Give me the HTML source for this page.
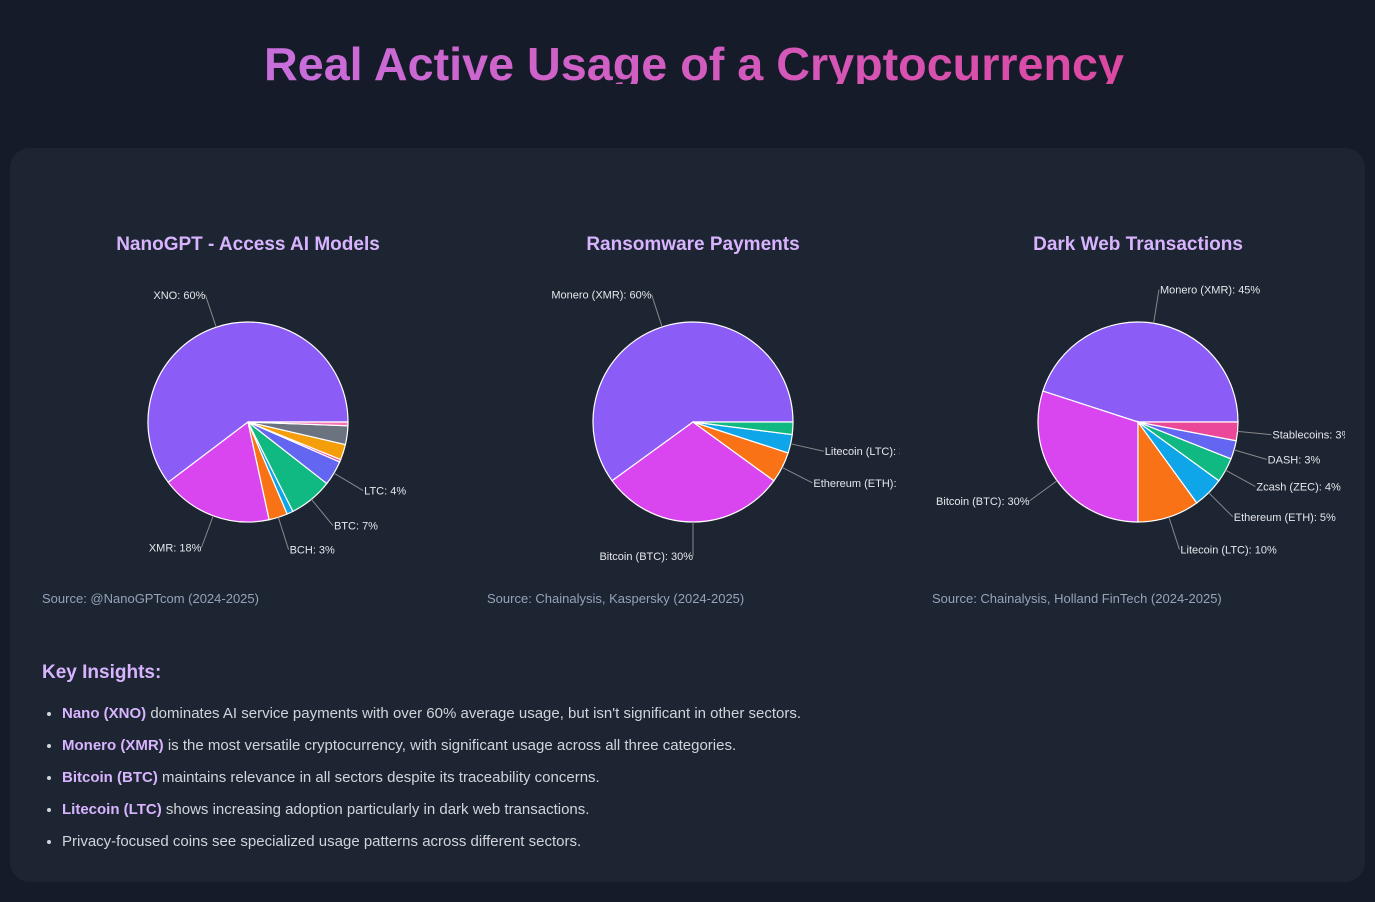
<!DOCTYPE html>
<html><head><meta charset="utf-8">
<style>
body{margin:0;width:1375px;height:902px;background:#151b29;font-family:"Liberation Sans",sans-serif;overflow:hidden;position:relative}
.card{position:absolute;left:10px;top:148px;width:1355px;height:734px;background:#1d2533;border-radius:20px}
.ctitle{position:absolute;top:234px;font-weight:bold;font-size:19px;color:#d8b4fe;text-align:center;width:414px}
.src{position:absolute;top:591px;font-size:13px;color:#94a3b8}
svg.pie{position:absolute;top:260px}
.ins{position:absolute;left:42px;top:662px;font-weight:bold;font-size:19px;color:#d8b4fe}
ul{position:absolute;left:42px;top:702px;margin:0;padding:0 0 0 20px;font-size:15px;color:#d1d5db}
li{height:32px;line-height:24px}
li b{color:#d8b4fe}
</style></head><body>
<svg width="1375" height="84" style="position:absolute;left:0;top:0">
<defs><linearGradient id="tg" x1="0" x2="1"><stop offset="0" stop-color="#c86fdc"/><stop offset="1" stop-color="#dc48a2"/></linearGradient></defs>
<text x="264" y="80" font-size="46" font-weight="bold" fill="url(#tg)" textLength="860" lengthAdjust="spacingAndGlyphs" font-family="Liberation Sans, sans-serif">Real Active Usage of a Cryptocurrency</text>
</svg>
<div class="card"></div>
<div class="ctitle" style="left:41px">NanoGPT - Access AI Models</div>
<div class="ctitle" style="left:486px">Ransomware Payments</div>
<div class="ctitle" style="left:931px">Dark Web Transactions</div>
<svg class="pie" id="p1" width="414" height="320" style="left:41px"></svg>
<svg class="pie" id="p2" width="414" height="320" style="left:486px"></svg>
<svg class="pie" id="p3" width="414" height="320" style="left:931px"></svg>
<div class="src" style="left:42px">Source: @NanoGPTcom (2024-2025)</div>
<div class="src" style="left:487px">Source: Chainalysis, Kaspersky (2024-2025)</div>
<div class="src" style="left:932px">Source: Chainalysis, Holland FinTech (2024-2025)</div>
<div class="ins">Key Insights:</div>
<ul>
<li><b>Nano (XNO)</b> dominates AI service payments with over 60% average usage, but isn't significant in other sectors.</li>
<li><b>Monero (XMR)</b> is the most versatile cryptocurrency, with significant usage across all three categories.</li>
<li><b>Bitcoin (BTC)</b> maintains relevance in all sectors despite its traceability concerns.</li>
<li><b>Litecoin (LTC)</b> shows increasing adoption particularly in dark web transactions.</li>
<li>Privacy-focused coins see specialized usage patterns across different sectors.</li>
</ul>
<script>
const labels1=["XNO","XMR","BCH","ETH","BTC","LTC","DOGE","SOL","Other","USDT"];
const values1=[60,18,3,1,7,4,0.4,2.5,3,0.6];
const shown1=[true,true,true,false,true,true,false,false,false,false];
const colors1=["#8b5cf6","#d946ef","#f97316","#0ea5e9","#10b981","#6366f1","#ec4899","#f59e0b","#6b7280","#f472b6"];
const labels2=["Monero (XMR)","Bitcoin (BTC)","Ethereum (ETH)","Litecoin (LTC)","Other"];
const values2=[60,30,5,3,2];
const shown2=[true,true,true,true,false];
const colors2=["#8b5cf6","#d946ef","#f97316","#0ea5e9","#10b981"];
const labels3=["Monero (XMR)","Bitcoin (BTC)","Litecoin (LTC)","Ethereum (ETH)","Zcash (ZEC)","DASH","Stablecoins"];
const values3=[45,30,10,5,4,3,3];
const shown3=[true,true,true,true,true,true,true];
const colors3=["#8b5cf6","#d946ef","#f97316","#0ea5e9","#10b981","#6366f1","#ec4899"];
const NS="http://www.w3.org/2000/svg";
function draw(id,labels,values,shown,colors){
  const svg=document.getElementById(id);
  const cx=207,cy=162,r=100;
  const tot=values.reduce((a,b)=>a+b,0);
  let a0=0;
  values.forEach((v,i)=>{
    const a1=a0+v/tot*2*Math.PI;
    const x0=cx+r*Math.cos(a0),y0=cy-r*Math.sin(a0),x1=cx+r*Math.cos(a1),y1=cy-r*Math.sin(a1);
    const p=document.createElementNS(NS,"path");
    p.setAttribute("d",`M${cx},${cy}L${x0},${y0}A${r},${r} 0 ${a1-a0>Math.PI?1:0} 0 ${x1},${y1}Z`);
    p.setAttribute("fill",colors[i]);p.setAttribute("stroke","#fff");p.setAttribute("stroke-width","1.2");
    
    
    svg.appendChild(p);
    if(shown[i]){
      const m=(a0+a1)/2,c=Math.cos(m),s=Math.sin(m);
      const ex=cx+r*c,ey=cy-r*s,lx=cx+(r+34)*c,ly=cy-(r+34)*s;
      const l=document.createElementNS(NS,"line");
      l.setAttribute("x1",ex);l.setAttribute("y1",ey);l.setAttribute("x2",lx);l.setAttribute("y2",ly);
      l.setAttribute("stroke","#888");l.setAttribute("stroke-width","1");
      
      
      svg.appendChild(l);
      const t=document.createElementNS(NS,"text");
      const right=c>0.01;
      t.setAttribute("x",lx+(right?1:0));t.setAttribute("y",ly+4);
      t.setAttribute("text-anchor",right?"start":"end");
      t.setAttribute("font-size","11");t.setAttribute("fill","#e5e7eb");
      t.textContent=labels[i]+": "+Math.round(v)+"%";
      
      
      svg.appendChild(t);
    }
    a0=a1;
  });
}
draw("p1",labels1,values1,shown1,colors1);
draw("p2",labels2,values2,shown2,colors2);
draw("p3",labels3,values3,shown3,colors3);
</script>
</body></html>
